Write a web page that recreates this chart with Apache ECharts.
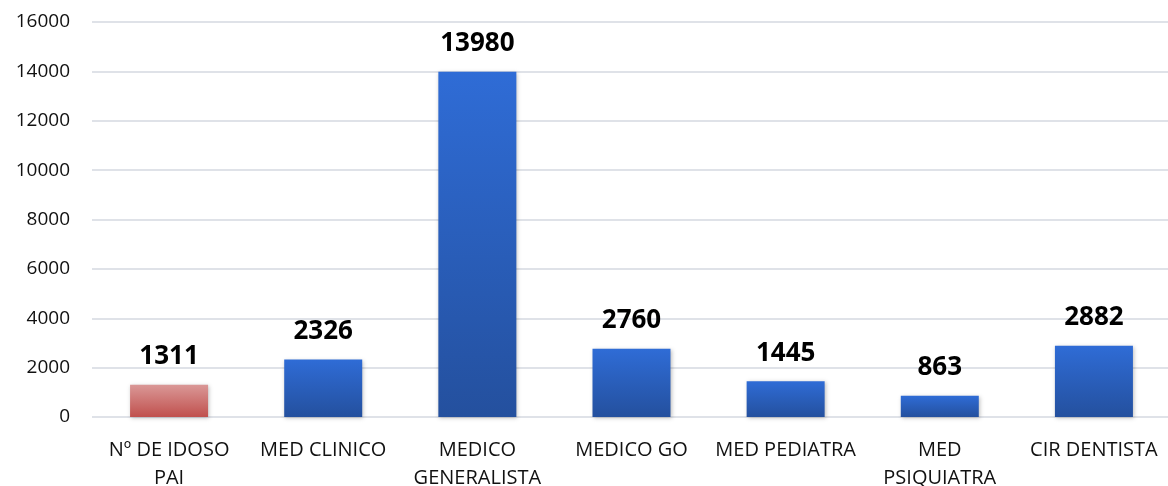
<!DOCTYPE html>
<html>
<head>
<meta charset="utf-8">
<script src="https://cdn.jsdelivr.net/npm/echarts@6/dist/echarts.min.js"></script>
<style>
  html, body { margin: 0; padding: 0; background: #fff; }
  #chart { width: 1168px; height: 486px; }
</style>
</head>
<body>
<div id="chart"></div>
<script>
  var categories = ['Nº DE IDOSO\nPAI', 'MED CLINICO', 'MEDICO\nGENERALISTA', 'MEDICO GO', 'MED PEDIATRA', 'MED\nPSIQUIATRA', 'CIR DENTISTA']
  var values = [1311, 2326, 13980, 2760, 1445, 863, 2882]
  var yTicks = [0, 2000, 4000, 6000, 8000, 10000, 12000, 14000, 16000]

  var blue = new echarts.graphic.LinearGradient(0, 0, 0, 1, [
    { offset: 0, color: '#2f6cd6' },
    { offset: 1, color: '#24509e' }
  ])
  var red = new echarts.graphic.LinearGradient(0, 0, 0, 1, [
    { offset: 0, color: '#da9897' },
    { offset: 1, color: '#c0504d' }
  ])

  var chart = echarts.init(document.getElementById('chart'))
  chart.setOption({
    animation: false,
    backgroundColor: '#fff',
    grid: {
      top: 22,
      left: 92,
      right: -3,
      bottom: 69,
      containLabel: false,
      outerBoundsMode: 'none'
    },
    xAxis: {
      type: 'category',
      data: categories,
      axisLine: { show: false },
      axisTick: { show: false },
      axisLabel: {
        interval: 0,
        margin: 19,
        lineHeight: 28,
        fontFamily: 'Open Sans',
        fontSize: 20,
        color: '#111'
      }
    },
    yAxis: {
      type: 'value',
      min: yTicks[0],
      max: yTicks[yTicks.length - 1],
      interval: 2000,
      axisLine: { show: false },
      axisTick: { show: false },
      axisLabel: {
        margin: 22,
        fontFamily: 'Open Sans',
        fontSize: 19,
        color: '#111',
        formatter: function (v) { return String(v) }
      },
      splitLine: {
        lineStyle: { color: '#dfe2e8', width: 2 }
      }
    },
    series: [{
      type: 'bar',
      barWidth: 78,
      data: values.map(function (v, i) {
        return {
          value: v,
          itemStyle: { color: i === 0 ? red : blue }
        }
      }),
      itemStyle: {
        shadowColor: 'rgba(0,0,0,0.25)',
        shadowBlur: 4,
        shadowOffsetX: 1,
        shadowOffsetY: 1
      },
      label: {
        show: true,
        position: 'top',
        distance: 15,
        fontFamily: 'Open Sans',
        fontWeight: 'bold',
        fontSize: 26,
        color: '#000'
      }
    }]
  })
</script>
</body>
</html>
